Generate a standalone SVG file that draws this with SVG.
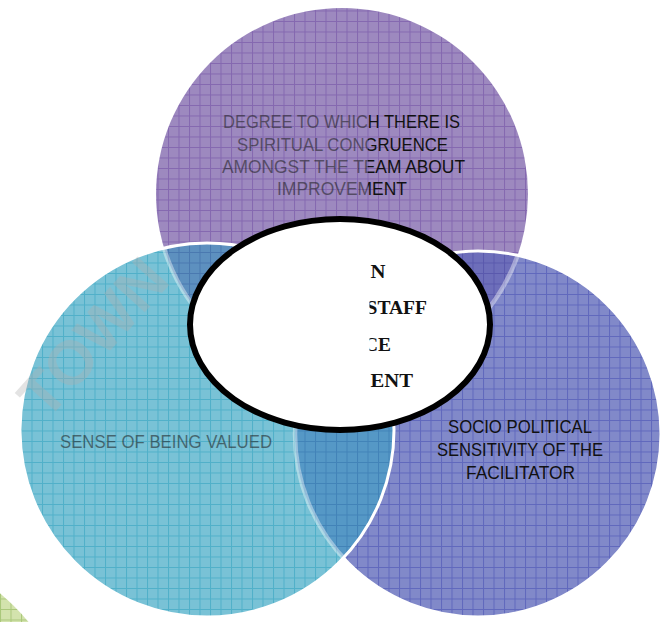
<svg xmlns="http://www.w3.org/2000/svg" width="660" height="622" viewBox="0 0 660 622">
  <style>
    .lbl { font-family: "Liberation Sans", Arial, sans-serif; font-size: 18.5px; }
    .core { font-family: "Liberation Serif", "Times New Roman", serif; font-size: 19.5px; font-weight: bold; fill: #111; }
    .rim { fill: none; stroke: #fff; stroke-width: 3; }
    .ghost { fill: none; stroke: #fff; stroke-width: 4.5; stroke-opacity: 0.4; }
    .mark { font-family: "Liberation Sans", Arial, sans-serif; font-size: 62px; font-weight: bold; fill: #b0b0b0; fill-opacity: 0.35; }
  </style>
  <defs>
    <!-- grid fills -->
    <pattern id="gP" width="10.5" height="10.5" patternUnits="userSpaceOnUse">
      <rect width="10.5" height="10.5" fill="#9d89bf"/>
      <path d="M0 0.5H10.5M0.5 0V10.5" stroke="#8468b0" stroke-width="1"/>
    </pattern>
    <pattern id="gR" width="10.5" height="10.5" patternUnits="userSpaceOnUse">
      <rect width="10.5" height="10.5" fill="#8189c9"/>
      <path d="M0 0.5H10.5M0.5 0V10.5" stroke="#6068bd" stroke-width="1"/>
    </pattern>
    <pattern id="gT" width="10.5" height="10.5" patternUnits="userSpaceOnUse">
      <rect width="10.5" height="10.5" fill="#79c2d6"/>
      <path d="M0 0.5H10.5M0.5 0V10.5" stroke="#50b0c9" stroke-width="1"/>
    </pattern>
    <pattern id="gTP" width="10.5" height="10.5" patternUnits="userSpaceOnUse">
      <rect width="10.5" height="10.5" fill="#5d90bf"/>
      <path d="M0 0.5H10.5M0.5 0V10.5" stroke="#4a78b0" stroke-width="1"/>
    </pattern>
    <pattern id="gRP" width="10.5" height="10.5" patternUnits="userSpaceOnUse">
      <rect width="10.5" height="10.5" fill="#6d6eba"/>
      <path d="M0 0.5H10.5M0.5 0V10.5" stroke="#5a59ad" stroke-width="1"/>
    </pattern>
    <pattern id="gTR" width="10.5" height="10.5" patternUnits="userSpaceOnUse">
      <rect width="10.5" height="10.5" fill="#5598c6"/>
      <path d="M0 0.5H10.5M0.5 0V10.5" stroke="#4283b8" stroke-width="1"/>
    </pattern>
    <pattern id="gG" width="10.5" height="10.5" patternUnits="userSpaceOnUse">
      <rect width="10.5" height="10.5" fill="#d3e3ad"/>
      <path d="M0 0.5H10.5M0.5 0V10.5" stroke="#a9c77a" stroke-width="1"/>
    </pattern>

    <clipPath id="cP"><circle cx="342" cy="194" r="186"/></clipPath>
    <clipPath id="cR"><circle cx="478" cy="434" r="183"/></clipPath>
    <clipPath id="cT"><circle cx="207" cy="430" r="187"/></clipPath>
    <clipPath id="cCore"><rect x="369.5" y="200" width="200" height="240"/></clipPath>

    <!-- label ink: faded to the left of x=368 -->
    <linearGradient id="ink" gradientUnits="userSpaceOnUse" x1="0" y1="0" x2="660" y2="0">
      <stop offset="0" stop-color="#1a1a1a" stop-opacity="0.55"/>
      <stop offset="0.5576" stop-color="#1a1a1a" stop-opacity="0.55"/>
      <stop offset="0.5576" stop-color="#111"/>
      <stop offset="1" stop-color="#111"/>
    </linearGradient>
  </defs>

  <rect width="660" height="622" fill="#fff"/>

  <!-- partial green circle in the corner -->
  <g id="corner-circle">
    <circle cx="-160" cy="780" r="246" fill="url(#gG)"/>
  </g>

  <!-- top circle -->
  <g id="node-top">
    <circle cx="342" cy="194" r="186" fill="url(#gP)"/>
  </g>

  <!-- right circle, with its overlap on the top circle -->
  <g id="node-right">
    <circle cx="478" cy="434" r="183" fill="url(#gR)"/>
    <g clip-path="url(#cP)">
      <circle cx="478" cy="434" r="183" fill="url(#gRP)"/>
    </g>
    <g clip-path="url(#cR)">
      <circle class="ghost" cx="342" cy="194" r="186"/>
    </g>
    <circle class="rim" cx="478" cy="434" r="183"/>
  </g>

  <!-- left circle, with its overlaps -->
  <g id="node-left">
    <circle cx="207" cy="430" r="187" fill="url(#gT)"/>
    <g clip-path="url(#cT)">
      <circle cx="342" cy="194" r="186" fill="url(#gTP)"/>
      <circle cx="478" cy="434" r="183" fill="url(#gTR)"/>
      <circle class="ghost" cx="342" cy="194" r="186"/>
      <circle class="ghost" cx="478" cy="434" r="183"/>
    </g>
    <circle class="rim" cx="207" cy="430" r="187"/>
  </g>

  <!-- faint diagonal watermark -->
  <g id="watermark">
    <text class="mark" transform="translate(46 422) rotate(-48)">TOWN</text>
  </g>

  <!-- circle labels -->
  <g id="label-top" class="lbl" fill="url(#ink)">
    <text x="223" y="128.3" textLength="237" lengthAdjust="spacingAndGlyphs">DEGREE TO WHICH THERE IS</text>
    <text x="237" y="150.7" textLength="211" lengthAdjust="spacingAndGlyphs">SPIRITUAL CONGRUENCE</text>
    <text x="222" y="173.2" textLength="243" lengthAdjust="spacingAndGlyphs">AMONGST THE TEAM ABOUT</text>
    <text x="277" y="195" textLength="130" lengthAdjust="spacingAndGlyphs">IMPROVEMENT</text>
  </g>
  <g id="label-left" class="lbl" fill="url(#ink)">
    <text x="60" y="448" textLength="212" lengthAdjust="spacingAndGlyphs">SENSE OF BEING VALUED</text>
  </g>
  <g id="label-right" class="lbl" fill="#111">
    <text x="448" y="433.3" textLength="144" lengthAdjust="spacingAndGlyphs">SOCIO POLITICAL</text>
    <text x="437" y="456" textLength="166" lengthAdjust="spacingAndGlyphs">SENSITIVITY OF THE</text>
    <text x="466" y="478.7" textLength="109" lengthAdjust="spacingAndGlyphs">FACILITATOR</text>
  </g>

  <!-- central ellipse -->
  <g id="node-center">
    <ellipse cx="340" cy="324.5" rx="150" ry="105.5" fill="#fff" stroke="#000" stroke-width="6"/>
    <g clip-path="url(#cCore)" class="core">
      <text x="370.5" y="278.3" textLength="15" lengthAdjust="spacingAndGlyphs">N</text>
      <text x="366.5" y="314" textLength="60.5" lengthAdjust="spacingAndGlyphs">STAFF</text>
      <text x="364" y="350.8" textLength="27" lengthAdjust="spacingAndGlyphs">CE</text>
      <text x="370.5" y="386.5" textLength="42.5" lengthAdjust="spacingAndGlyphs">ENT</text>
    </g>
  </g>
</svg>
